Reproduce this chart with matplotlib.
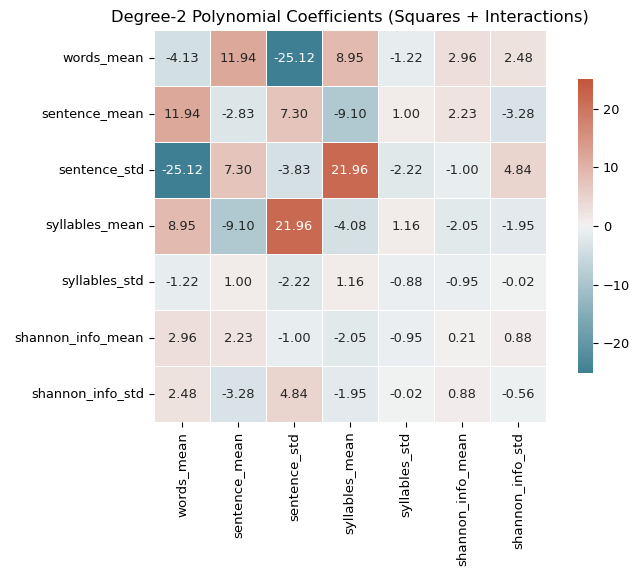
import numpy as np
import matplotlib
matplotlib.use("Agg")
import matplotlib.pyplot as plt
import seaborn as sns

features = ["words_mean", "sentence_mean", "sentence_std", "syllables_mean",
            "syllables_std", "shannon_info_mean", "shannon_info_std"]

coefs = np.array([
    [-4.13, 11.94, -25.12, 8.95, -1.22, 2.96, 2.48],
    [11.94, -2.83, 7.30, -9.10, 1.00, 2.23, -3.28],
    [-25.12, 7.30, -3.83, 21.96, -2.22, -1.00, 4.84],
    [8.95, -9.10, 21.96, -4.08, 1.16, -2.05, -1.95],
    [-1.22, 1.00, -2.22, 1.16, -0.88, -0.95, -0.02],
    [2.96, 2.23, -1.00, -2.05, -0.95, 0.21, 0.88],
    [2.48, -3.28, 4.84, -1.95, -0.02, 0.88, -0.56],
])

plt.rcParams["font.size"] = 9.3

lim = np.abs(coefs).max()
cmap = sns.diverging_palette(220, 20, as_cmap=True)

fig = plt.figure(figsize=(6.33, 5.69), dpi=100)
ax = fig.add_axes([154 / 633, 147 / 569, 392 / 633, 392 / 569])
cax = fig.add_axes([578 / 633, 196 / 569, 15 / 633, 294 / 569])
sns.heatmap(coefs, ax=ax, cbar_ax=cax, cmap=cmap, center=0, vmin=-lim, vmax=lim,
            annot=True, fmt=".2f", annot_kws={"size": 9.4}, linewidths=0.5,
            square=True, xticklabels=features, yticklabels=features)
ax.set_title("Degree-2 Polynomial Coefficients (Squares + Interactions)", fontsize=11.8)
ax.tick_params(axis="x", rotation=90, labelsize=9.6)
ax.tick_params(axis="y", rotation=0, labelsize=9.3)
cax.tick_params(labelsize=9.3)
fig.savefig("out.png", dpi=100)
